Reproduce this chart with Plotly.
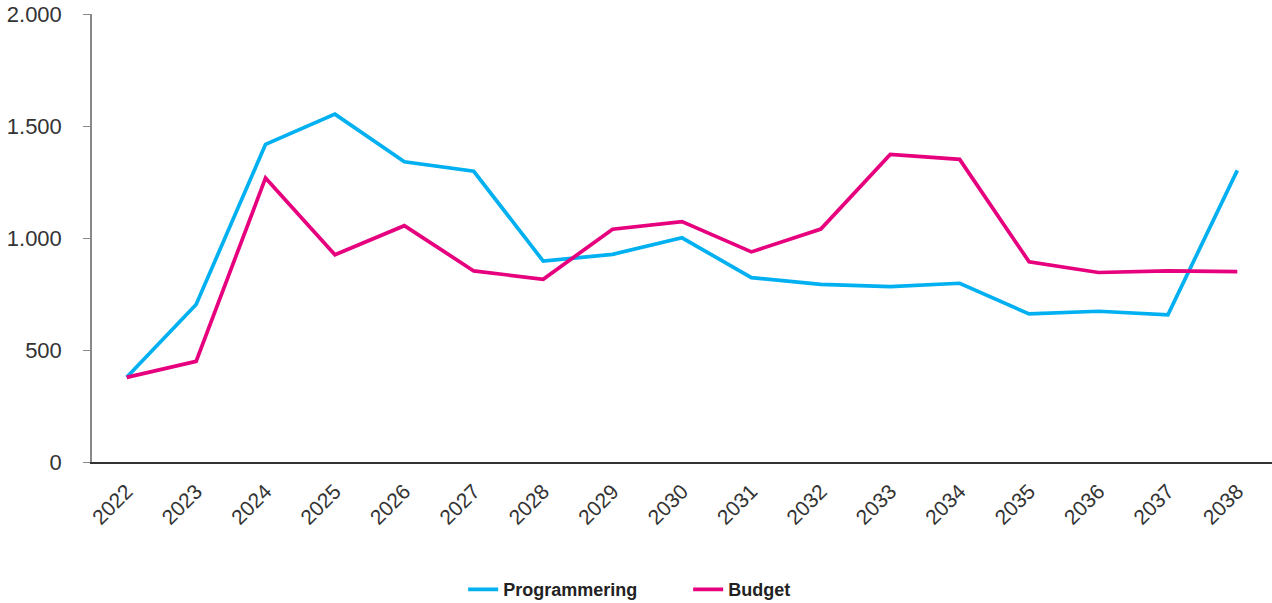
import plotly.graph_objects as go

years = [str(y) for y in range(2022, 2039)]
programmering = [378, 703, 1418, 1553, 1340, 1298, 897, 927, 1001, 823, 793, 783, 798, 661, 673, 657, 1302]
budget = [378, 449, 1268, 925, 1055, 853, 816, 1039, 1073, 938, 1040, 1373, 1351, 894, 846, 853, 850]
y_ticks = [0, 500, 1000, 1500, 2000]
y_tick_labels = ["0", "500", "1.000", "1.500", "2.000"]

BLUE = "#00B0F0"
PINK = "#E6007E"
FONT = "Liberation Sans, Arial, sans-serif"

fig = go.Figure()
fig.add_trace(go.Scatter(x=years, y=programmering, mode="lines", name="Programmering",
                         line=dict(color=BLUE, width=3.7)))
fig.add_trace(go.Scatter(x=years, y=budget, mode="lines", name="Budget",
                         line=dict(color=PINK, width=3.7)))

fig.update_layout(
    width=1272, height=603,
    margin=dict(l=92, r=0, t=14, b=141),
    paper_bgcolor="white", plot_bgcolor="white",
    font=dict(family=FONT, color="#333333", size=21),
    showlegend=True,
    legend=dict(orientation="h", xref="container", yref="container",
                x=0.541, xanchor="center", y=0.022, yanchor="middle",
                font=dict(size=18, color="#222222", family=FONT, weight="bold"),
                entrywidth=180, itemwidth=30),
    hovermode=False,
)
fig.update_xaxes(
    type="category", range=[-0.5, 16.5],
    showline=True, linecolor="#333333", linewidth=1.5,
    showgrid=False, ticks="", tickangle=-45,
    ticklabelstandoff=7,
    tickfont=dict(size=21, color="#333333"),
    zeroline=False,
)
fig.update_yaxes(
    range=[0, 2000], tickvals=y_ticks, ticktext=y_tick_labels,
    showline=True, linecolor="#888888", linewidth=1.5,
    ticks="outside", ticklen=7, tickcolor="#888888", tickwidth=1.2,
    showgrid=False, zeroline=False,
    ticklabelstandoff=17,
    tickfont=dict(size=22, color="#333333"),
)

fig.write_html("out.html", config={"displayModeBar": False},
               post_script="document.body.style.margin='0';document.body.style.overflow='hidden';")
